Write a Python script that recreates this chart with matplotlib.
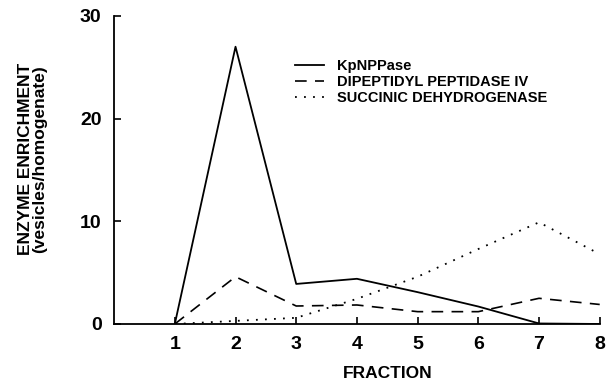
import matplotlib
matplotlib.use("Agg")
import matplotlib.pyplot as plt

fractions = [1, 2, 3, 4, 5, 6, 7, 8]
kpnppase = [0, 27.0, 3.9, 4.4, 3.1, 1.7, 0.05, 0.0]
dpp4 = [0, 4.6, 1.75, 1.85, 1.2, 1.2, 2.5, 1.9]
sdh = [0, 0.3, 0.6, 2.45, 4.6, 7.3, 9.9, 6.8]
series_labels = ["KpNPPase", "DIPEPTIDYL PEPTIDASE IV", "SUCCINIC DEHYDROGENASE"]
x_ticks = [1, 2, 3, 4, 5, 6, 7, 8]
y_ticks = [0, 10, 20, 30]

plt.rcParams['font.family'] = ['Liberation Sans', 'DejaVu Sans']
fig = plt.figure(figsize=(6.07, 3.88), dpi=100)
ax = fig.add_axes([0.188, 0.165, 0.800, 0.794])

ax.plot(fractions, kpnppase, color='black', lw=1.3, ls='-', label=series_labels[0])
ax.plot(fractions, dpp4, color='black', lw=1.2, ls=(0, (7, 5)), label=series_labels[1])
ax.plot(fractions, sdh, color='black', lw=1.3, ls=(0, (1, 4)), label=series_labels[2])

ax.set_xlim(0, 8)
ax.set_ylim(0, 30)
ax.set_xticks(x_ticks)
ax.set_yticks(y_ticks)
for s in ['top', 'right']:
    ax.spines[s].set_visible(False)
for s in ['left', 'bottom']:
    ax.spines[s].set_linewidth(1.3)
ax.tick_params(direction='in', length=5, width=1.2, labelsize=14, pad=9)
for lab in ax.get_xticklabels() + ax.get_yticklabels():
    lab.set_fontweight('bold')

ax.text(4.5, -4.8, "FRACTION", ha='center', va='center', fontsize=12.5, fontweight='bold')
fig.text(0.054, 0.59, "ENZYME ENRICHMENT\n(vesicles/homogenate)", rotation=90,
         ha='center', va='center', fontsize=12.5, fontweight='bold', linespacing=0.95)

leg = ax.legend(loc='upper left', bbox_to_anchor=(0.36, 0.88), frameon=False,
                fontsize=10.5, handlelength=2.0, handletextpad=0.9, labelspacing=0.15,
                borderaxespad=0)
for t in leg.get_texts():
    t.set_fontweight('bold')

fig.savefig("out.png", dpi=100)
